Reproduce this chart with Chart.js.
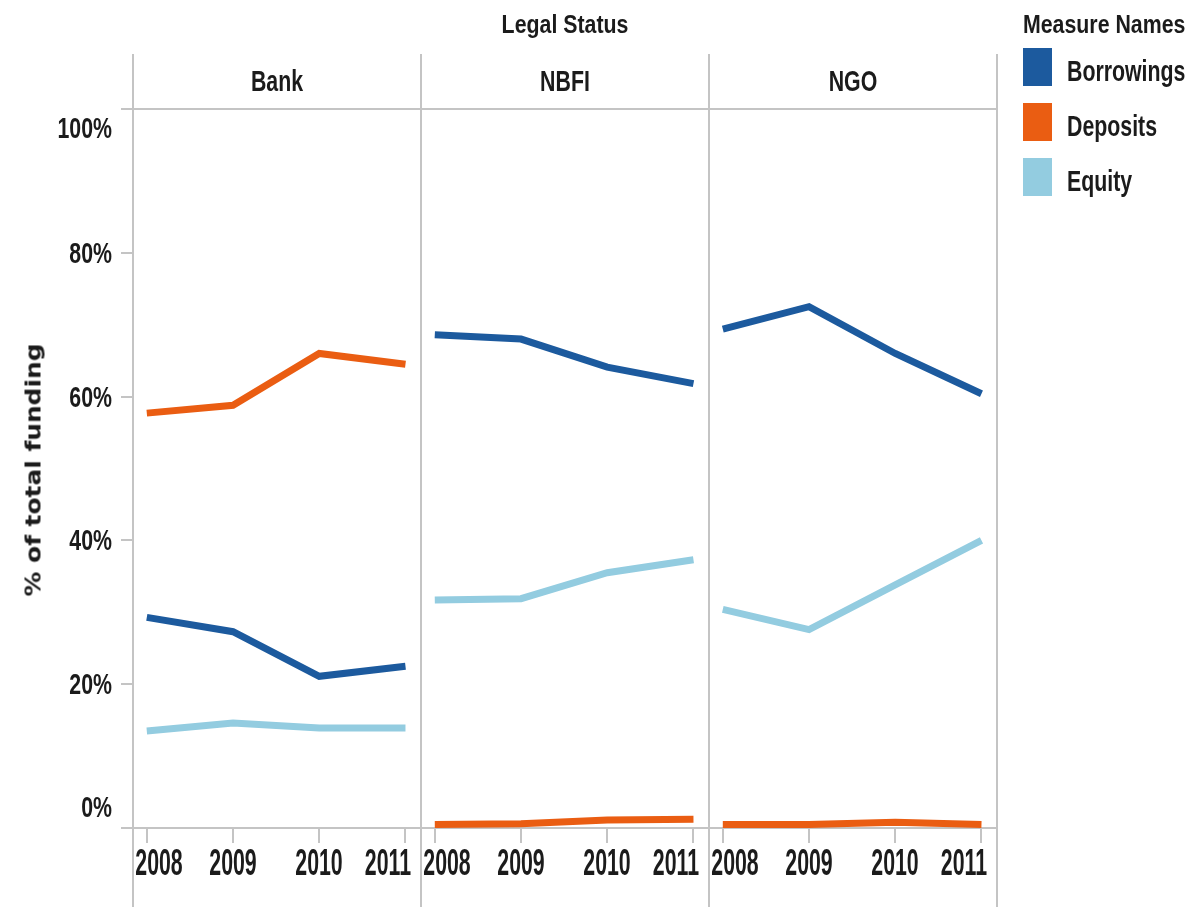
<!DOCTYPE html>
<html>
<head>
<meta charset="utf-8">
<script src="https://cdn.jsdelivr.net/npm/chart.js@4.4.1/dist/chart.umd.min.js"></script>
<style>
  body { margin: 0; background: #fff; }
  #wrap { position: relative; width: 1192px; height: 907px; overflow: hidden; color: #1b1b1b; }
  #chart { position: absolute; left: 0; top: 0; }
  .txt { position: absolute; font-family: 'Liberation Sans', Arial, sans-serif; font-weight: bold;
         font-size: 26px; line-height: 26px; white-space: nowrap; }
  .swatch { position: absolute; left: 1023px; width: 29px; height: 38px; }
  #ytitle { position: absolute; left: 33px; top: 470px; transform: translate(-50%, -50%) rotate(-90deg) scaleX(1.13);
            font-family: 'DejaVu Sans', sans-serif; font-weight: bold; font-size: 22px; white-space: nowrap; color: #1b1b1b; }
</style>
</head>
<body>
<div id="wrap">
  <canvas id="chart" width="1192" height="907"></canvas>
  <div id="labels"></div>
  <div id="ytitle">% of total funding</div>
</div>
<script>
// --- DATA ---
const years = ['2008', '2009', '2010', '2011'];
const legalStatus = ['Bank', 'NBFI', 'NGO'];
const measureNames = ['Borrowings', 'Deposits', 'Equity'];
const measureColors = ['#1c5a9e', '#ea5d12', '#93cce0'];

// one row per legal status (Bank, NBFI, NGO), % of total funding
const borrowings = [[29.3, 27.3, 21.1, 22.5], [68.6, 68.0, 64.1, 61.8], [69.4, 72.5, 66.0, 60.4]];
const deposits   = [[57.7, 58.8, 66.0, 64.5], [0.5, 0.6, 1.1, 1.2], [0.5, 0.5, 0.8, 0.5]];
const equity     = [[13.5, 14.6, 13.9, 13.9], [31.7, 31.9, 35.5, 37.3], [30.4, 27.6, 33.8, 40.0]];
const yTicks = [0, 20, 40, 60, 80, 100];

// facet layout in "year" units: each panel is a bit wider than 3 years
const PANEL = 3.34;
const PAD = 0.16;

function facetX(p, i) { return p * PANEL + PAD + i; }

function buildSeries(rows) {
    const pts = [];
    rows.forEach((row, p) => {
        row.forEach((v, i) => pts.push({ x: facetX(p, i), y: v }));
        pts.push({ x: (p + 1) * PANEL, y: null }); // break line between panels
    });
    return pts;
}

const seriesData = [borrowings, deposits, equity];
const xTickValues = [];
legalStatus.forEach((s, p) => years.forEach((y, i) => xTickValues.push(facetX(p, i))));

// --- FACET LINES ---
const facetPlugin = {
    id: 'facets',
    beforeDatasetsDraw(chart) {
        const ctx = chart.ctx, xs = chart.scales.x, ys = chart.scales.y;
        const left = chart.chartArea.left, right = chart.chartArea.right;
        ctx.save();
        ctx.strokeStyle = '#c4c4c4';
        ctx.lineWidth = 2;
        for (let p = 0; p <= legalStatus.length; p++) {
            const x = Math.round(xs.getPixelForValue(p * PANEL));
            ctx.beginPath(); ctx.moveTo(x, 54); ctx.lineTo(x, 907); ctx.stroke();
        }
        [0, 100].forEach(v => {
            const y = Math.round(ys.getPixelForValue(v));
            ctx.beginPath(); ctx.moveTo(left - 12, y); ctx.lineTo(right, y); ctx.stroke();
        });
        ctx.restore();
    }
};

// --- CHART ---
const ctx = document.getElementById('chart').getContext('2d');
const myChart = new Chart(ctx, {
    type: 'line',
    data: {
        datasets: measureNames.map((m, k) => ({
            label: m,
            data: buildSeries(seriesData[k]),
            borderColor: measureColors[k],
            backgroundColor: measureColors[k],
            borderWidth: 7,
            pointRadius: 0,
            tension: 0,
            spanGaps: false
        }))
    },
    options: {
        responsive: false,
        animation: false,
        devicePixelRatio: 1,
        layout: { padding: { left: 121, top: 109, right: 195, bottom: 0 } },
        plugins: { legend: { display: false }, tooltip: { enabled: false } },
        scales: {
            x: {
                type: 'linear',
                min: 0,
                max: PANEL * legalStatus.length,
                afterBuildTicks: (scale) => { scale.ticks = xTickValues.map(v => ({ value: v })); },
                afterFit: (scale) => { scale.height = 79; },
                ticks: { display: false, autoSkip: false },
                grid: { drawOnChartArea: false, drawTicks: true, tickLength: 15, color: '#c4c4c4', lineWidth: 2 },
                border: { display: false }
            },
            y: {
                min: 0,
                max: 100,
                afterBuildTicks: (scale) => { scale.ticks = yTicks.map(v => ({ value: v })); },
                afterFit: (scale) => { scale.width = 12; },
                ticks: { display: false },
                grid: { drawOnChartArea: false, drawTicks: true, tickLength: 12, color: '#c4c4c4', lineWidth: 2 },
                border: { display: false }
            }
        }
    },
    plugins: [facetPlugin]
});

// --- TEXT (narrow, slightly tall like the Tableau export) ---
const labelBox = document.getElementById('labels');
function placeText(str, x, y, align, sy) {
    const el = document.createElement('div');
    el.className = 'txt';
    el.textContent = str;
    el.style.left = x + 'px';
    el.style.top = y + 'px';
    const tx = align === 'right' ? '-100%' : align === 'center' ? '-50%' : '0';
    el.style.transformOrigin = (align === 'right' ? '100%' : align === 'center' ? '50%' : '0') + ' 50%';
    el.style.transform = `translate(${tx}, -50%) scale(0.82, ${sy || 1.1})`;
    labelBox.appendChild(el);
    return el;
}

const xs = myChart.scales.x, ys = myChart.scales.y;
const area = myChart.chartArea;

placeText('Legal Status', xs.getPixelForValue(1.5 * PANEL), 24, 'center', 1.0);
legalStatus.forEach((s, p) => placeText(s, xs.getPixelForValue((p + 0.5) * PANEL), 81, 'center'));

// y tick labels, edge ones pushed inside
yTicks.forEach(v => {
    let y = ys.getPixelForValue(v);
    if (v === 100) y += 19;
    if (v === 0) y -= 21;
    placeText(v + '%', area.left - 21, y, 'right');
});

// x tick labels, kept inside their panel
legalStatus.forEach((s, p) => {
    const pl = xs.getPixelForValue(p * PANEL), pr = xs.getPixelForValue((p + 1) * PANEL);
    years.forEach((yr, i) => {
        const el = placeText(yr, xs.getPixelForValue(facetX(p, i)), 862, 'center', 1.4);
        const r = el.getBoundingClientRect();
        let shift = 0;
        if (r.left < pl + 2) shift = pl + 2 - r.left;
        if (r.right > pr - 10) shift = pr - 10 - r.right;
        el.style.left = (parseFloat(el.style.left) + shift) + 'px';
    });
});

// legend
placeText('Measure Names', 1023, 24, 'left', 1.0);
measureNames.forEach((m, k) => {
    const sw = document.createElement('div');
    sw.className = 'swatch';
    sw.style.top = (48 + k * 55) + 'px';
    sw.style.background = measureColors[k];
    labelBox.appendChild(sw);
    placeText(m, 1067, 71 + k * 55, 'left');
});
</script>
</body>
</html>
